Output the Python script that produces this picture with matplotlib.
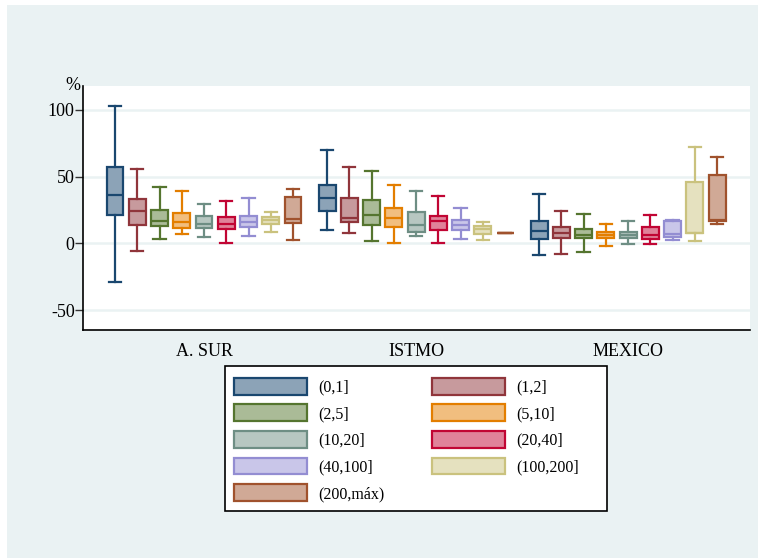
import matplotlib
matplotlib.use("Agg")
import matplotlib.pyplot as plt
from matplotlib.patches import Patch, Rectangle

plt.rcParams['font.family'] = ['Liberation Serif', 'DejaVu Serif']

regions = ["A. SUR", "ISTMO", "MEXICO"]
classes = ["(0,1]", "(1,2]", "(2,5]", "(5,10]", "(10,20]",
           "(20,40]", "(40,100]", "(100,200]", "(200,máx)"]

edge_colors = ["#1a476f", "#90353b", "#55752f", "#e37e00", "#6e8e84",
               "#c10534", "#938dd2", "#cac27e", "#a0522d"]
fill_colors = ["#8ca3b7", "#c79a9d", "#aabb97", "#f1be7f", "#b7c7c1",
               "#e0829a", "#c9c6e9", "#e5e1bf", "#d0a996"]

# box statistics per region: lower whisker, q1, median, q3, upper whisker
sur_lo = [-29, -6, 3.2, 7, 4.8, 0, 5.5, 8.5, 2.3]
sur_q1 = [21.5, 14, 13, 11.5, 11.8, 10.8, 12, 14.3, 15.5]
sur_med = [36, 24.5, 17, 15.8, 14.3, 14.8, 15.8, 17.3, 18]
sur_q3 = [57, 33, 24.8, 22.8, 20.3, 19.5, 20.8, 19.8, 34.6]
sur_hi = [103, 56, 42.6, 39, 29.3, 31.8, 34, 23.3, 40.8]

ist_lo = [9.8, 8, 1.6, 0, 5.3, 0, 3, 2.3, 7.5]
ist_q1 = [24.5, 15.8, 13.5, 12.3, 8.8, 10.3, 10.3, 7, 7.5]
ist_med = [33.8, 19.3, 21, 18.8, 14, 16.8, 14, 10.8, 7.5]
ist_q3 = [44, 34, 32.6, 26.6, 23.5, 20.8, 17.3, 12.8, 7.5]
ist_hi = [70, 57.3, 54.6, 43.4, 38.9, 35.3, 26.3, 16, 7.5]

mex_lo = [-9, -7.7, -6.3, -2, -0.8, -0.5, 2.5, 1.8, 14.3]
mex_q1 = [3.5, 4, 4, 4.3, 4, 3.5, 4.8, 7.5, 16.5]
mex_med = [9.3, 7.8, 6.3, 6.5, 6.5, 6.3, 7, 8, 17.8]
mex_q3 = [16.8, 12.5, 11, 8.8, 8.8, 12.3, 17, 46, 51]
mex_hi = [37, 24.3, 21.8, 14.8, 16.5, 21, 17.8, 72.3, 65]

stats = [
    (sur_lo, sur_q1, sur_med, sur_q3, sur_hi),
    (ist_lo, ist_q1, ist_med, ist_q3, ist_hi),
    (mex_lo, mex_q1, mex_med, mex_q3, mex_hi),
]

W, H = 758, 558
fig = plt.figure(figsize=(W / 100, H / 100), dpi=100, facecolor="white")
# light background panel
fig.patches.append(Rectangle((7 / W, 0), 1, 1 - 5 / H, transform=fig.transFigure,
                             facecolor="#eaf2f3", edgecolor="none", zorder=-10))

ax = fig.add_axes([83 / W, 1 - 330 / H, 667 / W, 244 / H])
ax.set_facecolor("white")

n = len(classes)
group_step = n + 0.53
centers = []
for g, (lo, q1, med, q3, hi) in enumerate(stats):
    pos = [g * group_step + i for i in range(n)]
    centers.append(sum(pos) / n)
    bxp_stats = [dict(whislo=lo[i], q1=q1[i], med=med[i], q3=q3[i], whishi=hi[i])
                 for i in range(n)]
    art = ax.bxp(bxp_stats, positions=pos, widths=0.76, capwidths=0.55,
                 patch_artist=True, showfliers=False, manage_ticks=False,
                 boxprops=dict(linewidth=1.6),
                 whiskerprops=dict(linewidth=1.6),
                 capprops=dict(linewidth=1.6),
                 medianprops=dict(linewidth=1.6))
    for i in range(n):
        art['boxes'][i].set_facecolor(fill_colors[i])
        art['boxes'][i].set_edgecolor(edge_colors[i])
        art['medians'][i].set_color(edge_colors[i])
        for k in (2 * i, 2 * i + 1):
            art['whiskers'][k].set_color(edge_colors[i])
            art['caps'][k].set_color(edge_colors[i])

ax.set_xlim(-1.44, 2 * group_step + n - 1 + 1.48)
ax.set_ylim(-65, 118)
ax.set_yticks([-50, 0, 50, 100])
ax.set_yticklabels(["-50", "0", "50", "100"])
ax.set_xticks(centers)
ax.set_xticklabels(regions)
ax.tick_params(axis='x', length=0, pad=9, labelsize=13)
ax.tick_params(axis='y', length=6, width=1, color="#333333", pad=0, labelsize=13)
ax.grid(axis='y', color="#eaf2f3", linewidth=1.8)
ax.set_axisbelow(True)
for side in ("top", "right"):
    ax.spines[side].set_visible(False)
for side in ("left", "bottom"):
    ax.spines[side].set_linewidth(1.2)
    ax.spines[side].set_color("black")

ax.text(-0.004, 1.0, "%", transform=ax.transAxes, ha='right', va='center', fontsize=13)

# legend frame drawn separately so the columns can sit left of its right edge
fig.patches.append(Rectangle((225 / W, 1 - 511 / H), 382 / W, 145 / H,
                             transform=fig.transFigure, facecolor="white",
                             edgecolor="black", linewidth=1.2, zorder=1))

# legend laid out row-wise, two columns
handles = [Patch(facecolor=fill_colors[i], edgecolor=edge_colors[i], linewidth=1.6,
                 label=classes[i]) for i in range(n)]
order = list(range(0, n, 2)) + list(range(1, n, 2))
leg = fig.legend([handles[i] for i in order], [classes[i] for i in order], ncol=2,
                 loc='upper left', bbox_to_anchor=(225 / W, 1 - 511 / H, 363 / W, 142 / H),
                 mode='expand', fontsize=11.5, handlelength=4.6, handleheight=1.25,
                 labelspacing=0.55, handletextpad=0.7, borderpad=0.55, borderaxespad=0,
                 frameon=False)
leg.set_zorder(2)

fig.savefig("out.png", dpi=100, facecolor=fig.get_facecolor())
